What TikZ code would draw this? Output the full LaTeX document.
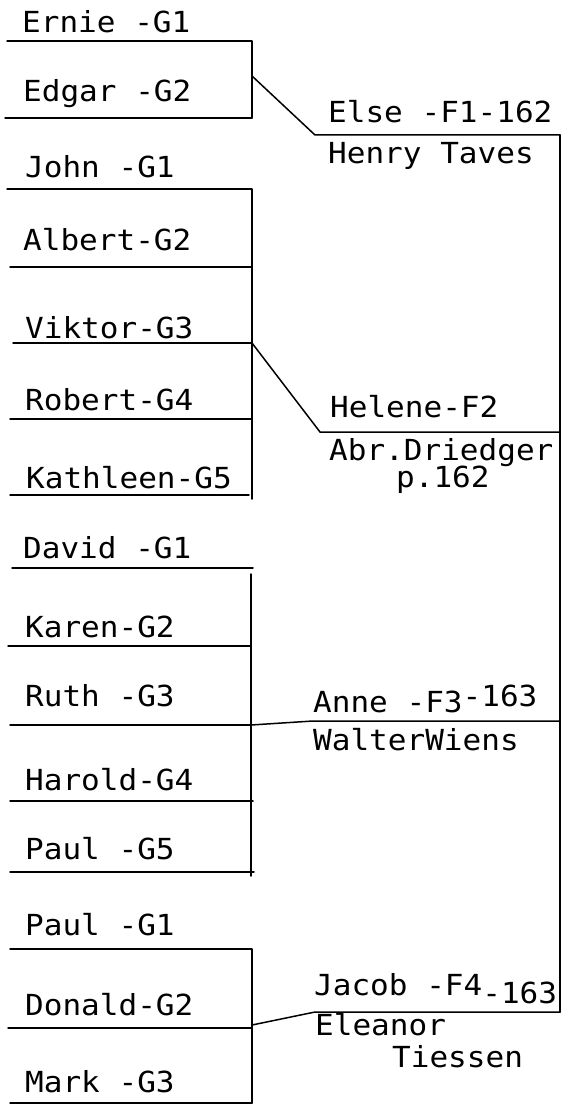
\documentclass[tikz,border=0pt]{standalone}
\usepackage{fontspec}
\setmonofont[FakeStretch=1.07]{DejaVu Sans Mono}
\begin{document}
\begin{tikzpicture}[x=1pt,y=-1pt,
  rule/.style={line width=1.5pt, line cap=round, line join=round},
  lbl/.style={anchor=base west, inner sep=0pt, font=\ttfamily\fontsize{29}{34}\selectfont}]
\useasboundingbox (0,0) rectangle (562,1105);
% ---- labels, left column
\node[lbl] (ernie)  at (22,33)   {Ernie -G1};
\node[lbl] (edgar)  at (23,102)  {Edgar -G2};
\node[lbl] (john)   at (25,177)  {John -G1};
\node[lbl] (albert) at (23,250)  {Albert-G2};
\node[lbl] (viktor) at (25,338)  {Viktor-G3};
\node[lbl] (robert) at (25,410)  {Robert-G4};
\node[lbl] (kath)   at (26,488)  {Kathleen-G5};
\node[lbl] (david)  at (23,558)  {David -G1};
\node[lbl] (karen)  at (25,637)  {Karen-G2};
\node[lbl] (ruth)   at (25,706)  {Ruth -G3};
\node[lbl] (harold) at (25,790)  {Harold-G4};
\node[lbl] (paulf)  at (25,859)  {Paul -G5};
\node[lbl] (paula)  at (25,935)  {Paul -G1};
\node[lbl] (donald) at (25,1015) {Donald-G2};
\node[lbl] (mark)   at (25,1092) {Mark -G3};
% ---- labels, right column
\node[lbl] (else)    at (328,123)  {Else -F1-162};
\node[lbl] (henry)   at (328,163)  {Henry Taves};
\node[lbl] (helene)  at (330,417)  {Helene-F2};
\node[lbl] (abr)     at (329,460)  {Abr.Driedger};
\node[lbl] (pp)      at (396,487)  {p.162};
\node[lbl] (anne)    at (313,712)  {Anne -F3\raisebox{6pt}{-163}};
\node[lbl] (walter)  at (313,750)  {WalterWiens};
\node[lbl] (jacob)   at (314,995)  {Jacob -F4\raisebox{-8pt}{-163}};
\node[lbl] (eleanor) at (315,1035) {Eleanor};
\node[lbl] (tiessen) at (392,1067) {Tiessen};
% ---- coordinates
% family 1
\coordinate (a1l) at (7,41);   \coordinate (a1r) at (252,41);
\coordinate (a2l) at (5,118);  \coordinate (a2r) at (252,118);
\coordinate (aj)  at (252,76);
\coordinate (fa)  at (315,135);
% family 2
\coordinate (b1l) at (7,189);  \coordinate (b1r) at (252,189);
\coordinate (b2l) at (10,267); \coordinate (b2r) at (252,267);
\coordinate (b3l) at (13,343); \coordinate (b3r) at (252,343);
\coordinate (b4l) at (10,419); \coordinate (b4r) at (252,419);
\coordinate (b5l) at (10,495); \coordinate (b5r) at (249,495);
\coordinate (bb)  at (252,499);
\coordinate (fb)  at (320,432);
% family 3
\coordinate (c1l) at (12,568); \coordinate (c1r) at (253,568);
\coordinate (ct)  at (251,574);
\coordinate (c2l) at (8,646);  \coordinate (c2r) at (251,646);
\coordinate (c3l) at (10,725); \coordinate (c3r) at (251,725);
\coordinate (c4l) at (10,801); \coordinate (c4r) at (253,801);
\coordinate (c5l) at (10,872); \coordinate (c5r) at (254,872);
\coordinate (cb)  at (251,876);
\coordinate (fc)  at (313,721);
% family 4
\coordinate (d1l) at (10,949); \coordinate (d1r) at (252,949);
\coordinate (d2l) at (8,1028); \coordinate (d2r) at (252,1028);
\coordinate (d3l) at (10,1103);\coordinate (d3r) at (252,1103);
\coordinate (dj)  at (252,1025);
\coordinate (fd)  at (315,1012);
% right spine
\coordinate (ra) at (560,135);
\coordinate (rb) at (560,432);
\coordinate (rc) at (560,721);
\coordinate (rd) at (560,1012);
% ---- lines
\draw[rule] (a1l) -- (a1r) -- (a2r);
\draw[rule] (a2l) -- (a2r);
\draw[rule] (aj) -- (fa) -- (ra);
\draw[rule] (b1l) -- (b1r) -- (bb);
\draw[rule] (b2l) -- (b2r);
\draw[rule] (b3l) -- (b3r);
\draw[rule] (b4l) -- (b4r);
\draw[rule] (b5l) -- (b5r);
\draw[rule] (b3r) -- (fb) -- (rb);
\draw[rule] (c1l) -- (c1r);
\draw[rule] (ct) -- (cb);
\draw[rule] (c2l) -- (c2r);
\draw[rule] (c3l) -- (c3r);
\draw[rule] (c4l) -- (c4r);
\draw[rule] (c5l) -- (c5r);
\draw[rule] (c3r) -- (fc) -- (rc);
\draw[rule] (d1l) -- (d1r) -- (d3r);
\draw[rule] (d2l) -- (d2r);
\draw[rule] (d3l) -- (d3r);
\draw[rule] (dj) -- (fd) -- (rd);
\draw[rule] (ra) -- (rb) -- (rc) -- (rd);
\end{tikzpicture}
\end{document}
